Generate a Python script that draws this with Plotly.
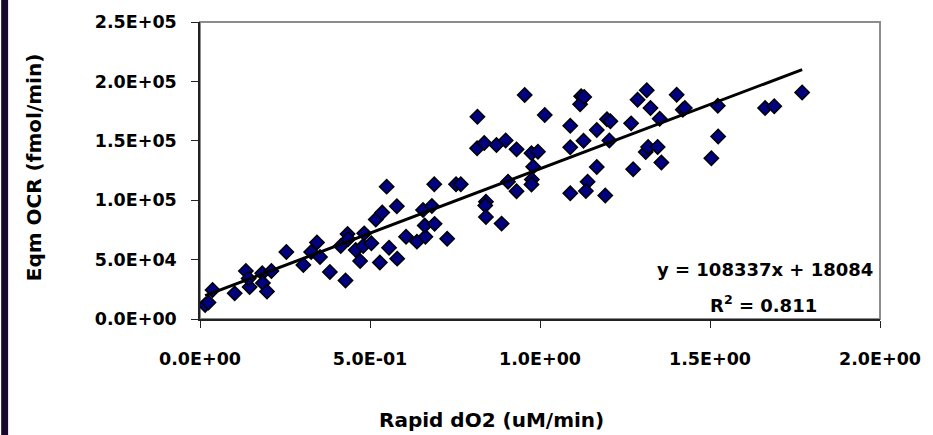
import plotly.graph_objects as go

########## data ##########
rapid_do2 = [0.015, 0.025, 0.037, 0.102, 0.135, 0.146, 0.143, 0.183, 0.185, 0.197,
             0.210, 0.254, 0.304, 0.327, 0.344, 0.353, 0.382, 0.414, 0.428, 0.434,
             0.436, 0.458, 0.471, 0.480, 0.483, 0.504, 0.517, 0.529, 0.536, 0.549,
             0.556, 0.579, 0.580, 0.606, 0.638, 0.656, 0.663, 0.661, 0.682, 0.689,
             0.690, 0.727, 0.753, 0.767, 0.816, 0.815, 0.836, 0.841, 0.839, 0.841,
             0.872, 0.887, 0.899, 0.906, 0.931, 0.931, 0.955, 0.975, 0.980, 0.976,
             0.975, 0.994, 1.014, 1.089, 1.089, 1.121, 1.118, 1.130, 1.128, 1.167,
             1.167, 1.140, 1.135, 1.089, 1.192, 1.197, 1.207, 1.204, 1.268, 1.274,
             1.287, 1.314, 1.325, 1.311, 1.318, 1.346, 1.352, 1.357, 1.402, 1.420,
             1.426, 1.504, 1.523, 1.524, 1.662, 1.689, 1.771]

eqm_ocr = [11800, 13900, 24400, 21600, 40400, 26900, 34100, 38500, 30300, 23100,
           40400, 56400, 45500, 56400, 64400, 52200, 39600, 61400, 32400, 71500,
           67300, 58100, 48800, 61400, 72100, 63700, 83800, 47600, 89600, 111400,
           60000, 94900, 50800, 69300, 65100, 91800, 69300, 78700, 95100, 113400,
           80100, 67500, 113400, 113400, 170200, 143700, 148100, 98700, 95500, 85900,
           146500, 80300, 150300, 115600, 142800, 107600, 188600, 139500, 128200, 117400,
           113200, 140800, 171700, 162600, 144500, 187500, 180800, 186900, 150100, 159100,
           127900, 115600, 107700, 105800, 104000, 168200, 166400, 150300, 164700, 126100,
           184600, 192500, 177600, 140600, 144800, 144800, 168500, 131700, 188800, 176200,
           177600, 135300, 179500, 153600, 177600, 179100, 190700]

# linear trendline shown on the chart
slope = 108337
intercept = 18084
r_squared = 0.811

x_ticks = [0, 0.5, 1.0, 1.5, 2.0]
x_tick_labels = ["0.0E+00", "5.0E-01", "1.0E+00", "1.5E+00", "2.0E+00"]
y_ticks = [0, 50000, 100000, 150000, 200000, 250000]
y_tick_labels = ["0.0E+00", "5.0E+04", "1.0E+05", "1.5E+05", "2.0E+05", "2.5E+05"]

###############################################################################
font_name = "DejaVu Sans"
ink = "#000000"

fig = go.Figure()

fig.add_trace(go.Scatter(x=rapid_do2, y=eqm_ocr, mode="markers",
                         marker=dict(symbol="diamond", size=11, color="#000080",
                                     line=dict(color="black", width=1.5)),
                         showlegend=False))

trend_x = [min(rapid_do2), max(rapid_do2)]
trend_y = [slope * v + intercept for v in trend_x]
fig.add_trace(go.Scatter(x=trend_x, y=trend_y, mode="lines",
                         line=dict(color="black", width=3), showlegend=False))

fig.update_layout(width=933, height=435,
                  margin=dict(l=200, r=49, t=22, b=116),
                  paper_bgcolor="white", plot_bgcolor="white",
                  font=dict(family=font_name, color=ink))

fig.update_xaxes(range=[0, 2], tickvals=x_ticks, ticktext=x_tick_labels,
                 showgrid=False, zeroline=False, showline=True, linecolor="#222",
                 linewidth=1.5, ticks="outside", ticklen=7, tickcolor="#222",
                 ticklabelstandoff=16,
                 tickfont=dict(family=font_name, size=17.5, color=ink, weight="bold"))
fig.update_yaxes(range=[0, 250000], tickvals=y_ticks, ticktext=y_tick_labels,
                 showgrid=False, zeroline=False, showline=True, linecolor="#222",
                 linewidth=1.5, ticks="outside", ticklen=7, tickcolor="#222",
                 ticklabelstandoff=11,
                 tickfont=dict(family=font_name, size=17.5, color=ink, weight="bold"))

# gray plot frame (top / right) and the dark strip at the left edge
fig.add_shape(type="rect", xref="paper", yref="paper", x0=0, x1=1, y0=0, y1=1,
              line=dict(color="#8c8c8c", width=2), layer="below")
fig.add_shape(type="rect", xref="paper", yref="paper", x0=-0.2924, x1=-0.2822,
              y0=-0.3906, y1=1.0741, line=dict(width=0), fillcolor="#1a0730")

fig.add_annotation(text="<b>Rapid dO2 (uM/min)</b>", xref="paper", yref="paper",
                   x=0.428, y=-0.34, xanchor="center", yanchor="middle",
                   showarrow=False, font=dict(family=font_name, size=20, color=ink))
fig.add_annotation(text="<b>Eqm OCR (fmol/min)</b>", xref="paper", yref="paper",
                   x=-0.244, y=0.508, xanchor="center", yanchor="middle",
                   textangle=-90, showarrow=False,
                   font=dict(family=font_name, size=20, color=ink))
fig.add_annotation(text="<b>y = %dx + %d</b>" % (slope, intercept), xref="paper",
                   yref="paper", x=0.993, y=0.168, xanchor="right", yanchor="middle",
                   showarrow=False, font=dict(family=font_name, size=18, color=ink))
fig.add_annotation(text="<b>R<sup>2</sup> = %.3f</b>" % r_squared, xref="paper",
                   yref="paper", x=0.829, y=0.05, xanchor="center", yanchor="middle",
                   showarrow=False, font=dict(family=font_name, size=18, color=ink))

# page body margin would shift the figure off the window edge
fig.write_html("out.html", config={"displayModeBar": False},
               post_script="document.body.style.margin='0';")
